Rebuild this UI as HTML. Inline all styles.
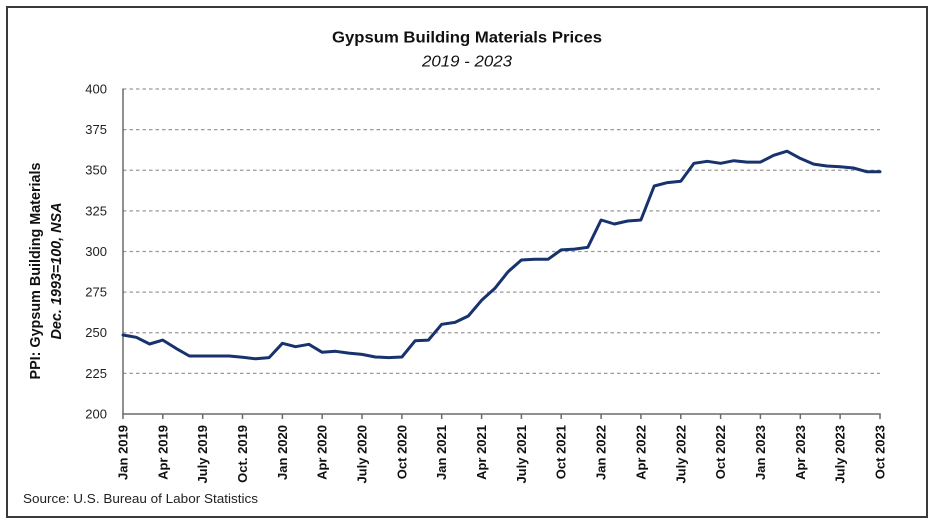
<!DOCTYPE html>
<html>
<head>
<meta charset="utf-8">
<style>
  html, body { margin: 0; padding: 0; background: #ffffff; }
  svg { display: block; }
</style>
</head>
<body>
<svg width="936" height="526" viewBox="0 0 936 526" xmlns="http://www.w3.org/2000/svg" font-family="'Liberation Sans', sans-serif">
  <rect x="0" y="0" width="936" height="526" fill="#ffffff"/>
  <!-- border -->
  <rect x="7" y="7" width="920" height="510" fill="none" stroke="#3a3a3a" stroke-width="2"/>

  <!-- title -->
  <text x="467" y="42.5" text-anchor="middle" font-size="15.5" font-weight="bold" fill="#111" textLength="270" lengthAdjust="spacingAndGlyphs">Gypsum Building Materials Prices</text>
  <text x="467" y="66.5" text-anchor="middle" font-size="15.5" font-style="italic" fill="#111" textLength="90" lengthAdjust="spacingAndGlyphs">2019 - 2023</text>

  <!-- gridlines -->
  <g stroke="#9a9a9a" stroke-width="1.3" stroke-dasharray="3.5,3" fill="none">
    <line x1="123" y1="89" x2="880" y2="89"/>
    <line x1="123" y1="129.6" x2="880" y2="129.6"/>
    <line x1="123" y1="170.25" x2="880" y2="170.25"/>
    <line x1="123" y1="210.9" x2="880" y2="210.9"/>
    <line x1="123" y1="251.5" x2="880" y2="251.5"/>
    <line x1="123" y1="292.1" x2="880" y2="292.1"/>
    <line x1="123" y1="332.75" x2="880" y2="332.75"/>
    <line x1="123" y1="373.4" x2="880" y2="373.4"/>
  </g>

  <!-- axes -->
  <g stroke="#6b6b6b" stroke-width="1.5" fill="none">
    <line x1="123" y1="88.5" x2="123" y2="414.5"/>
    <line x1="122.3" y1="414" x2="880.7" y2="414"/>
    <line x1="123" y1="414" x2="123" y2="419"/>
    <line x1="162.8" y1="414" x2="162.8" y2="419"/>
    <line x1="202.7" y1="414" x2="202.7" y2="419"/>
    <line x1="242.5" y1="414" x2="242.5" y2="419"/>
    <line x1="282.4" y1="414" x2="282.4" y2="419"/>
    <line x1="322.2" y1="414" x2="322.2" y2="419"/>
    <line x1="362.0" y1="414" x2="362.0" y2="419"/>
    <line x1="401.9" y1="414" x2="401.9" y2="419"/>
    <line x1="441.7" y1="414" x2="441.7" y2="419"/>
    <line x1="481.6" y1="414" x2="481.6" y2="419"/>
    <line x1="521.4" y1="414" x2="521.4" y2="419"/>
    <line x1="561.2" y1="414" x2="561.2" y2="419"/>
    <line x1="601.1" y1="414" x2="601.1" y2="419"/>
    <line x1="640.9" y1="414" x2="640.9" y2="419"/>
    <line x1="680.8" y1="414" x2="680.8" y2="419"/>
    <line x1="720.6" y1="414" x2="720.6" y2="419"/>
    <line x1="760.4" y1="414" x2="760.4" y2="419"/>
    <line x1="800.3" y1="414" x2="800.3" y2="419"/>
    <line x1="840.1" y1="414" x2="840.1" y2="419"/>
    <line x1="880.0" y1="414" x2="880.0" y2="419"/>
  </g>

  <!-- y tick labels -->
  <g font-size="13" fill="#222" text-anchor="end">
    <text x="107" y="93.5">400</text>
    <text x="107" y="134">375</text>
    <text x="107" y="174.7">350</text>
    <text x="107" y="215.3">325</text>
    <text x="107" y="256">300</text>
    <text x="107" y="296.5">275</text>
    <text x="107" y="337.2">250</text>
    <text x="107" y="377.8">225</text>
    <text x="107" y="418.5">200</text>
  </g>

  <!-- y axis title -->
  <text transform="translate(40,271) rotate(-90)" text-anchor="middle" font-size="14.3" font-weight="bold" fill="#111" textLength="217" lengthAdjust="spacingAndGlyphs">PPI: Gypsum Building Materials</text>
  <text transform="translate(61,271) rotate(-90)" text-anchor="middle" font-size="14.3" font-weight="bold" font-style="italic" fill="#111" textLength="137" lengthAdjust="spacingAndGlyphs">Dec. 1993=100, NSA</text>

  <!-- x tick labels -->
  <g font-size="13" font-weight="bold" fill="#111" text-anchor="end">
    <text transform="translate(127.5,425) rotate(-90)">Jan 2019</text>
    <text transform="translate(167.3,425) rotate(-90)">Apr 2019</text>
    <text transform="translate(207.2,425) rotate(-90)">July 2019</text>
    <text transform="translate(247,425) rotate(-90)">Oct. 2019</text>
    <text transform="translate(286.9,425) rotate(-90)">Jan 2020</text>
    <text transform="translate(326.7,425) rotate(-90)">Apr 2020</text>
    <text transform="translate(366.5,425) rotate(-90)">July 2020</text>
    <text transform="translate(406.4,425) rotate(-90)">Oct 2020</text>
    <text transform="translate(446.2,425) rotate(-90)">Jan 2021</text>
    <text transform="translate(486.1,425) rotate(-90)">Apr 2021</text>
    <text transform="translate(525.9,425) rotate(-90)">July 2021</text>
    <text transform="translate(565.7,425) rotate(-90)">Oct 2021</text>
    <text transform="translate(605.6,425) rotate(-90)">Jan 2022</text>
    <text transform="translate(645.4,425) rotate(-90)">Apr 2022</text>
    <text transform="translate(685.3,425) rotate(-90)">July 2022</text>
    <text transform="translate(725.1,425) rotate(-90)">Oct 2022</text>
    <text transform="translate(764.9,425) rotate(-90)">Jan 2023</text>
    <text transform="translate(804.8,425) rotate(-90)">Apr 2023</text>
    <text transform="translate(844.6,425) rotate(-90)">July 2023</text>
    <text transform="translate(884.5,425) rotate(-90)">Oct 2023</text>
  </g>

  <!-- data line -->
  <polyline fill="none" stroke="#17326c" stroke-width="3" stroke-linejoin="round" stroke-linecap="round"
    points="123.0,335.0 136.3,337.3 149.6,344.0 162.8,340.1 176.1,348.4 189.4,356.0 202.7,356.0 216.0,356.0 229.2,356.0 242.5,357.3 255.8,358.8 269.1,357.6 282.4,343.3 295.6,346.7 308.9,344.3 322.2,352.3 335.5,351.3 348.8,353.1 362.0,354.4 375.3,357.0 388.6,357.6 401.9,357.0 415.2,340.7 428.4,340.1 441.7,324.3 455.0,322.4 468.3,316.0 481.6,300.3 494.8,288.4 508.1,271.7 521.4,260.0 534.7,259.3 548.0,259.3 561.2,249.9 574.5,249.1 587.8,247.3 601.1,220.0 614.4,224.0 627.6,221.0 640.9,220.0 654.2,186.0 667.5,182.6 680.8,181.3 694.0,163.3 707.3,161.3 720.6,163.3 733.9,160.7 747.2,162.1 760.4,162.1 773.7,155.3 787.0,151.2 800.3,158.4 813.6,164.1 826.8,166.0 840.1,166.7 853.4,168.0 866.7,171.7 880.0,171.7"/>

  <!-- source -->
  <text x="23" y="503" font-size="13" fill="#222" textLength="235" lengthAdjust="spacingAndGlyphs">Source: U.S. Bureau of Labor Statistics</text>
</svg>
</body>
</html>
